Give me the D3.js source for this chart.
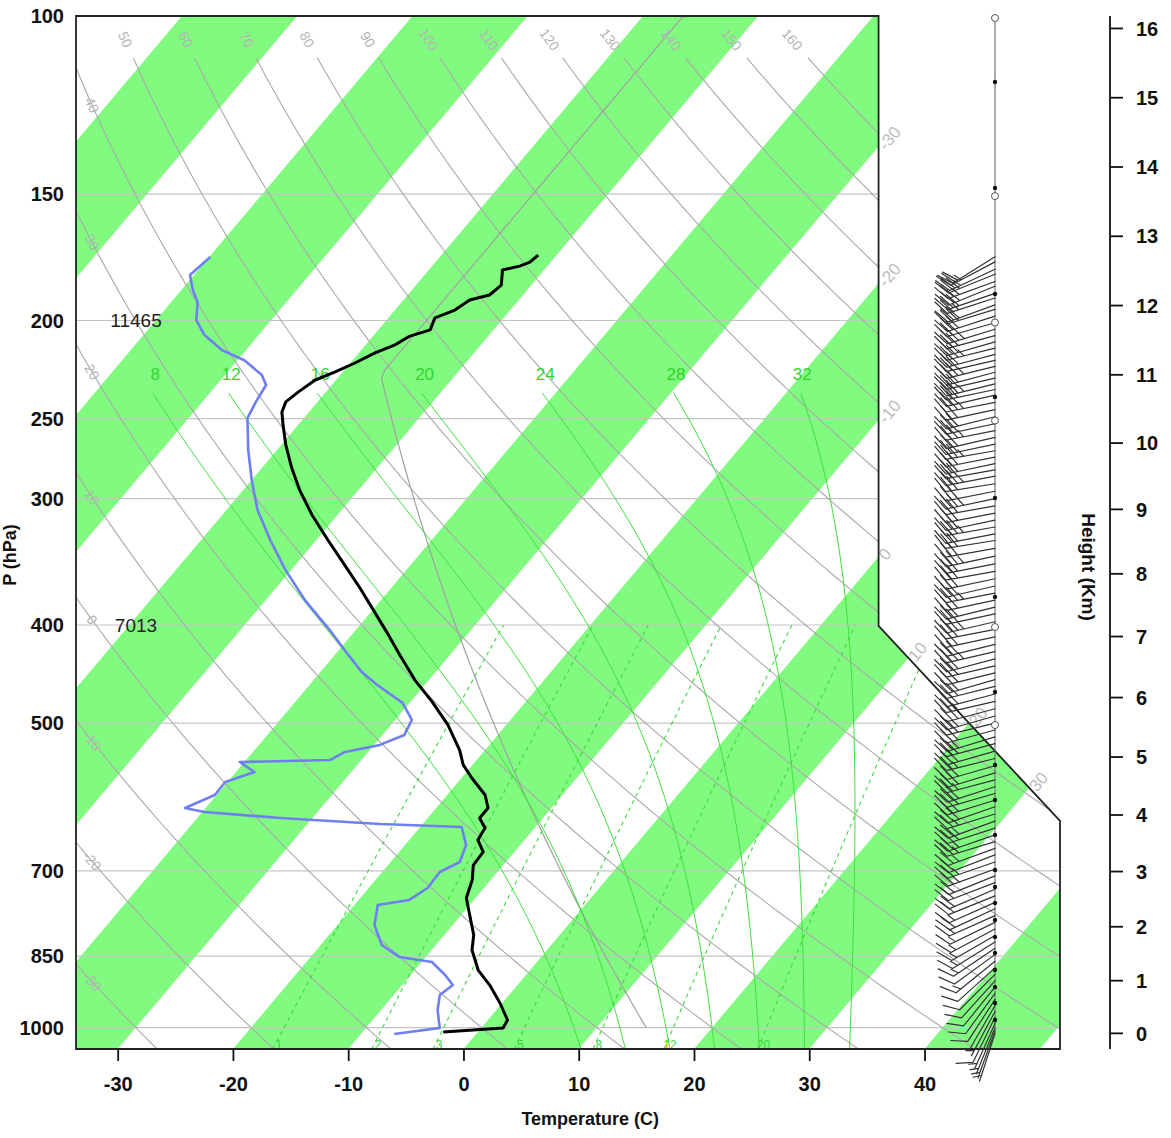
<!DOCTYPE html>
<html><head><meta charset="utf-8">
<script src="https://cdn.jsdelivr.net/npm/d3@7"></script>
<style>
body{margin:0;background:#fff;}
text{font-family:"Liberation Sans",Arial,Helvetica,sans-serif;}
</style></head><body>
<svg id="chart" width="1171" height="1138"></svg>
<script>
// ---- axis values ----
const pressureTicks = [100,150,200,250,300,400,500,700,850,1000];
const temperatureTicks = [-30,-20,-10,0,10,20,30,40];
const heightTicksKm = [0,1,2,3,4,5,6,7,8,9,10,11,12,13,14,15,16];
// ---- background line families ----
const dryAdiabatTheta = [-30,-20,-10,0,10,20,30,40,50,60,70,80,90,100,110,120,130,140,150,160];
const moistAdiabatTheta = [8,12,16,20,24,28,32];
const mixingRatios = [1,2,3,5,8,12,20];
const isothermLabelValues = [-30,-20,-10,0,10,20,30];
// ---- level height notes ----
const notePres = [200,400];
const noteText = ["11465","7013"];
// ---- sounding: temperature ----
const tPres = [1010.0,1000.9,982.9,945.6,907.8,877.3,838.2,810.0,774.0,744.5,714.8,690.8,670.5,652.4,634.9,620.6,606.6,589.0,566.6,550.0,531.7,502.1,476.5,453.4,428.2,406.5,388.2,367.7,349.0,329.6,311.4,294.2,279.8,265.5,253.7,246.3,240.7,235.4,229.0,224.9,220.3,215.3,211.4,207.2,204.3,198.8,195.3,190.9,188.7,184.5,178.3,176.7,175.1,172.3];
const tTemp = [-3.0,1.9,1.7,-0.2,-2.4,-4.5,-6.5,-7.45,-9.26,-10.8,-11.6,-12.6,-12.7,-14.05,-14.3,-15.5,-15.5,-16.7,-19.1,-20.8,-22.2,-25.06,-28.1,-31.2,-34.35,-37.15,-39.7,-42.7,-45.7,-49.0,-52.2,-55.1,-57.4,-59.6,-61.3,-62.35,-62.75,-62.4,-61.8,-60.7,-59.6,-58.6,-57.45,-56.8,-55.5,-55.96,-54.8,-54.25,-52.9,-52.6,-53.6,-52.4,-51.8,-51.6];
// ---- sounding: dew point ----
const dPres = [1014.6,1000.9,960.7,928.7,907.8,887.3,861.4,851.5,828.6,791.6,756.5,747.9,727.8,701.8,686.0,659.9,633.4,629.1,620.6,612.2,606.6,589.0,571.8,558.9,546.4,543.8,534.0,525.5,513.7,496.5,477.6,458.5,445.2,423.4,404.6,377.9,352.8,329.6,307.8,287.5,268.5,249.7,240.7,231.6,226.4,218.9,213.9,206.7,199.8,191.8,186.6,180.3,173.1];
const dDew = [-7.1,-3.6,-5.1,-6.0,-5.6,-7.0,-9.1,-12.3,-14.7,-16.8,-17.97,-15.6,-14.9,-15.0,-14.0,-14.7,-16.4,-23.7,-32.8,-39.8,-41.8,-40.15,-40.2,-38.4,-40.4,-32.7,-32.0,-29.5,-28.1,-28.55,-30.6,-34.1,-36.4,-39.5,-42.25,-46.6,-50.5,-54.0,-57.3,-60.0,-62.5,-64.9,-65.35,-65.7,-66.8,-69.4,-72.1,-74.7,-76.5,-77.7,-79.0,-80.35,-79.9];
// ---- winds (direction deg, speed kt) ----
const wPres = [173,175,178,180,183,185,188,190,193,195,198,201,204,207,210,213,216,219,222,225,228,231,234,237,241,245,249,253,257,261,265,269,273,277,281,285,290,295,300,305,310,315,320,325,330,336,342,348,354,360,366,372,378,384,390,397,404,411,418,425,432,439,446,453,460,468,476,484,492,500,508,516,524,533,542,551,560,569,578,587,596,605,615,625,635,645,655,665,675,686,697,708,719,730,741,752,763,775,787,799,811,823,835,847,860,873,886,899,912,925,938,951,964,977,990,1000,1008,1014];
const wDir = [238,242,245,248,250,248,251,252,250,253,252,254,253,255,254,256,255,257,256,255,257,256,258,257,259,258,256,258,259,257,258,260,259,258,260,259,261,259,258,260,259,258,260,259,261,260,258,259,260,258,257,259,258,256,258,257,259,258,256,257,255,257,256,254,256,255,257,255,254,256,255,253,255,254,256,254,253,255,252,254,253,251,253,250,252,251,253,250,249,251,250,248,249,247,248,246,245,246,244,242,240,238,236,234,231,228,225,222,219,216,213,210,208,206,204,202,200,198];
const wSpd = [20,25,25,30,25,30,30,25,30,30,30,30,35,30,30,35,30,30,35,30,30,35,30,30,35,30,30,30,35,30,30,35,30,30,30,35,30,30,35,30,30,30,35,30,30,30,35,30,30,30,30,35,30,30,30,35,30,30,30,35,30,30,30,25,30,30,25,30,25,30,30,25,30,30,25,30,30,25,30,30,25,30,25,25,30,25,25,25,20,25,25,20,20,20,20,15,20,15,15,15,15,15,15,10,15,10,10,10,10,10,10,10,5,10,5,5,5,5];
// ---- markers on the wind column ----
const dotPres = [116.2,147.9,188.3,238.0,299.6,375.2,465.9,550.0,595.7,645.0,698.6,726.1,753.0,782.8,813.6,843.9,877.3,912.0,945.6,982.9];
const ringPres = [100,150,200,250,400,500];

// ---- skew-T coordinate system ----
const X0 = -19.0, X1 = 27.1, Y0 = -0.9346, Y1 = 44.061;
const skY = p => 132.182 - 44.061 * Math.log10(p);
const skX = (t, y) => 0.54 * t + 0.90692 * y;
const xs = d3.scaleLinear().domain([X0, X1]).range([76, 1060]);
const ys = d3.scaleLinear().domain([Y0, Y1]).range([1049, 16]);
const pScale = d3.scaleLog().domain([1050, 100]).range([1049, 16]);
const tScale = d3.scaleLinear().domain([(X0 - 0.90692 * Y0) / 0.54, (X1 - 0.90692 * Y0) / 0.54]).range([76, 1060]);
const P = (t, p) => { const y = skY(p); return [xs(skX(t, y)), ys(y)]; };

const frameSk = [[X0, Y0], [X0, Y1], [18.6, Y1], [18.6, 17.5], [X1, 9.0], [X1, Y0]];
const framePx = frameSk.map(d => [xs(d[0]), ys(d[1])]);

const svg = d3.select("#chart");
const defs = svg.append("defs");
defs.append("clipPath").attr("id", "frameClip")
  .append("path").attr("d", d3.line()(framePx) + "Z");

const plot = svg.append("g").attr("clip-path", "url(#frameClip)");
const line = d3.line();

// isotherm bands: every other 10 C band filled
const bandStarts = d3.range(-120, 60, 20);
plot.selectAll("path.band").data(bandStarts).join("path")
  .attr("class", "band")
  .attr("d", t0 => line([
    [xs(skX(t0, Y0)), ys(Y0)], [xs(skX(t0 + 10, Y0)), ys(Y0)],
    [xs(skX(t0 + 10, Y1)), ys(Y1)], [xs(skX(t0, Y1)), ys(Y1)]]) + "Z")
  .attr("fill", "#80fb80");

// isobars
plot.selectAll("line.isobar").data(pressureTicks).join("line")
  .attr("x1", 76).attr("x2", 1060)
  .attr("y1", d => pScale(d)).attr("y2", d => pScale(d))
  .attr("stroke", "#c4c4c4").attr("stroke-width", 1.2);

// dry adiabats
const dryT = (th, p) => (th + 273.15) * Math.pow(p / 1000, 0.2857) - 273.15;
const logSteps = (p0, p1, n) => d3.range(n + 1).map(i => p0 * Math.pow(p1 / p0, i / n));
plot.selectAll("path.dry").data(dryAdiabatTheta).join("path")
  .attr("d", th => line(logSteps(1050, 110, 80).map(p => P(dryT(th, p), p))))
  .attr("fill", "none").attr("stroke", "#a9a9a9").attr("stroke-width", 1.1);

// ICAO standard atmosphere
const stdT = p => p >= 226.32 ? 288.15 * Math.pow(p / 1013.25, 0.190263) - 273.15 : -56.5;
plot.append("path")
  .attr("d", line(logSteps(1000, 100, 120).map(p => P(stdT(p), p))))
  .attr("fill", "none").attr("stroke", "#a0a0a0").attr("stroke-width", 1.2);

// saturated adiabats (equivalent-potential-temperature approximation)
const mixrat = (tk, p) => { const es = 6.112 * Math.exp(17.67 * (tk - 273.15) / (tk - 29.65)); return 622 * es / (p - es); };
const satOs = tw => { const t = tw + 273.15; return t * Math.exp(2.6518986 * mixrat(t, 1000) / t); };
function tsa(os, p) {
  let lo = 150, hi = 340;
  const f = t => os * Math.exp(-2.6518986 * mixrat(t, p) / t) - t * Math.pow(1000 / p, 0.286);
  for (let i = 0; i < 50; i++) { const m = 0.5 * (lo + hi); if (f(m) > 0) lo = m; else hi = m; }
  return 0.5 * (lo + hi) - 273.15;
}
const moistData = moistAdiabatTheta.map(tw => ({ tw, os: satOs(tw) }));
plot.selectAll("path.moist").data(moistData).join("path")
  .attr("d", d => line(logSteps(1050, 236, 60).map(p => P(tsa(d.os, p), p))))
  .attr("fill", "none").attr("stroke", "#3ee03e").attr("stroke-width", 1);

// mixing ratio lines (g/kg)
const dewFromW = (w, p) => { const e = w * p / (622 + w); const l = Math.log(e / 6.112); return 243.5 * l / (17.67 - l); };
plot.selectAll("path.mix").data(mixingRatios).join("path")
  .attr("d", w => line(logSteps(1050, 400, 40).map(p => P(dewFromW(w, p), p))))
  .attr("fill", "none").attr("stroke", "#3ad83a").attr("stroke-width", 1.1)
  .attr("stroke-dasharray", "4,4");

// ---- labels for background lines ----
const lab = svg.append("g");
function angleAt(fn, p) {
  const a = fn(p), b = fn(p * 1.03);
  return Math.atan2(b[1] - a[1], b[0] - a[0]) * 180 / Math.PI;
}
// dry adiabat labels: along the top or along the left edge
dryAdiabatTheta.forEach(th => {
  const f = p => P(dryT(th, p), p);
  let p0;
  const topPt = f(105.5);
  if (topPt[0] > 100 && topPt[0] < 860) p0 = 105.5;
  else {
    let lo = 100, hi = 1050;
    const xTarget = xs(-18.25);
    if (f(hi)[0] < xTarget) return;
    for (let i = 0; i < 40; i++) { const m = Math.sqrt(lo * hi); if (f(m)[0] < xTarget) lo = m; else hi = m; }
    p0 = hi;
    if (p0 > 1000) return;
  }
  const pt = f(p0), ang = angleAt(f, p0);
  lab.append("text").attr("transform", `translate(${pt[0]},${pt[1]}) rotate(${ang})`)
    .attr("text-anchor", "middle").attr("dy", "0.35em")
    .attr("font-size", 14).attr("fill", "#b4b4b4").text(th);
});
// isotherm labels on the right boundary
function boundaryPoint(t) {
  for (let i = 2; i < frameSk.length - 1; i++) {
    const [xa, ya] = frameSk[i], [xb, yb] = frameSk[i + 1];
    const ga = skX(t, ya) - xa, gb = skX(t, yb) - xb;
    if (ga === gb) continue;
    const s = ga / (ga - gb);
    if (s >= 0 && s <= 1) return [xa + s * (xb - xa), ya + s * (yb - ya)];
  }
  return null;
}
isothermLabelValues.forEach(t => {
  const b = boundaryPoint(t);
  if (!b) return;
  lab.append("text").attr("transform", `translate(${xs(b[0]) + 3},${ys(b[1]) + 1}) rotate(-50)`)
    .attr("font-size", 17).attr("fill", "#bdbdbd").attr("dy", "0.35em").text(t);
});
// saturated adiabat labels
moistData.forEach(d => {
  const xLab = P(tsa(d.os, 238), 238)[0];
  lab.append("text").attr("x", xLab).attr("y", pScale(226)).attr("dy", "0.35em")
    .attr("text-anchor", "middle").attr("font-size", 17).attr("fill", "#2fd42f").text(d.tw);
});
// mixing ratio labels
mixingRatios.forEach(w => {
  const pt = P(dewFromW(w, 1040), 1040);
  lab.append("text").attr("x", pt[0] + 4).attr("y", pt[1]).attr("dy", "0.35em")
    .attr("text-anchor", "middle").attr("font-size", 12).attr("fill", "#3ad83a").text(w);
});
// height notes
notePres.forEach((p, i) => {
  lab.append("text").attr("x", 136).attr("y", pScale(p)).attr("dy", "0.36em")
    .attr("text-anchor", "middle").attr("font-size", 19).attr("fill", "#222").text(noteText[i]);
});

// ---- sounding profiles ----
const prof = svg.append("g").attr("clip-path", "url(#frameClip)");
prof.append("path").attr("d", line(dPres.map((p, i) => P(dDew[i], p))))
  .attr("fill", "none").attr("stroke", "#6f7ef0").attr("stroke-width", 2.6).attr("stroke-linejoin", "round");
prof.append("path").attr("d", line(tPres.map((p, i) => P(tTemp[i], p))))
  .attr("fill", "none").attr("stroke", "#000").attr("stroke-width", 3).attr("stroke-linejoin", "round");

// ---- frame ----
svg.append("path").attr("d", line(framePx) + "Z")
  .attr("fill", "none").attr("stroke", "#222").attr("stroke-width", 1.8);

// ---- axes ----
const axG = svg.append("g");
// left: pressure
axG.selectAll("text.pl").data(pressureTicks).join("text")
  .attr("x", 64).attr("y", d => pScale(d)).attr("dy", "0.36em").attr("text-anchor", "end")
  .attr("font-size", 20).attr("font-weight", "bold").attr("fill", "#111").text(d => d);
axG.append("text").attr("transform", "translate(16,555) rotate(-90)")
  .attr("text-anchor", "middle").attr("font-size", 18).attr("font-weight", "bold").attr("fill", "#111").text("P (hPa)");
// bottom: temperature
const bottomAxis = d3.axisBottom(tScale).tickValues(temperatureTicks).tickSize(12).tickPadding(16)
  .tickFormat(d => String(d));
const bAx = axG.append("g").attr("transform", "translate(0,1049)").call(bottomAxis);
bAx.select(".domain").remove();
bAx.selectAll(".tick line").attr("stroke", "#111").attr("stroke-width", 1.8);
bAx.selectAll(".tick text").attr("font-size", 20).attr("font-weight", "bold").attr("fill", "#111")
  .attr("font-family", "Liberation Sans, Arial, sans-serif");
axG.append("text").attr("x", tScale(11)).attr("y", 1125).attr("text-anchor", "middle")
  .attr("font-size", 18).attr("font-weight", "bold").attr("fill", "#111").text("Temperature (C)");
// right: standard-atmosphere height
const stdP = h => h <= 11 ? 1013.25 * Math.pow(1 - h / 44.3308, 5.2559) : 226.32 * Math.exp(-(h - 11) / 6.3416);
axG.append("line").attr("x1", 1110).attr("x2", 1110).attr("y1", 16).attr("y2", 1049)
  .attr("stroke", "#111").attr("stroke-width", 1.8);
axG.selectAll("line.ht").data(heightTicksKm).join("line")
  .attr("x1", 1110).attr("x2", 1123).attr("y1", h => pScale(stdP(h))).attr("y2", h => pScale(stdP(h)))
  .attr("stroke", "#111").attr("stroke-width", 1.8);
axG.selectAll("text.ht").data(heightTicksKm).join("text")
  .attr("x", 1136).attr("y", h => pScale(stdP(h))).attr("dy", "0.36em")
  .attr("font-size", 20).attr("font-weight", "bold").attr("fill", "#111").text(h => h);
axG.append("text").attr("transform", "translate(1082,567) rotate(90)")
  .attr("text-anchor", "middle").attr("font-size", 19).attr("font-weight", "bold").attr("fill", "#111").text("Height (Km)");

// ---- wind column ----
const windX = 995;
const wg = svg.append("g");
wg.append("line").attr("x1", windX).attr("x2", windX).attr("y1", 16).attr("y2", pScale(1014))
  .attr("stroke", "#777").attr("stroke-width", 1.2);
function barbPath(x, y, dir, spd) {
  const L = 50, F = 17, sp = 6;
  const r = dir * Math.PI / 180;
  const ux = Math.sin(r), uy = -Math.cos(r);
  const a = 60 * Math.PI / 180;
  const fx = ux * Math.cos(a) - uy * Math.sin(a), fy = ux * Math.sin(a) + uy * Math.cos(a);
  let d = `M${x},${y}L${x + L * ux},${y + L * uy}`;
  let s = Math.round(spd / 5) * 5, pos = L;
  while (s >= 50) {
    d += `M${x + pos * ux},${y + pos * uy}l${F * fx},${F * fy}L${x + (pos - sp) * ux},${y + (pos - sp) * uy}Z`;
    s -= 50; pos -= sp * 1.4;
  }
  while (s >= 10) { d += `M${x + pos * ux},${y + pos * uy}l${F * fx},${F * fy}`; s -= 10; pos -= sp; }
  if (s >= 5) { if (pos === L) pos -= sp; d += `M${x + pos * ux},${y + pos * uy}l${F * fx / 2},${F * fy / 2}`; }
  return d;
}
wg.selectAll("path.barb").data(wPres).join("path")
  .attr("d", (p, i) => barbPath(windX, pScale(p), wDir[i], wSpd[i]))
  .attr("fill", "#333").attr("stroke", "#333").attr("stroke-width", 1.2).attr("stroke-linecap", "round");
wg.selectAll("circle.dot").data(dotPres).join("circle")
  .attr("cx", windX).attr("cy", p => pScale(p)).attr("r", 2.2).attr("fill", "#111");
wg.selectAll("circle.ring").data(ringPres).join("circle")
  .attr("cx", windX).attr("cy", p => pScale(p) + 2).attr("r", 3.5).attr("fill", "#fff")
  .attr("stroke", "#555").attr("stroke-width", 1);
</script>
</body></html>
